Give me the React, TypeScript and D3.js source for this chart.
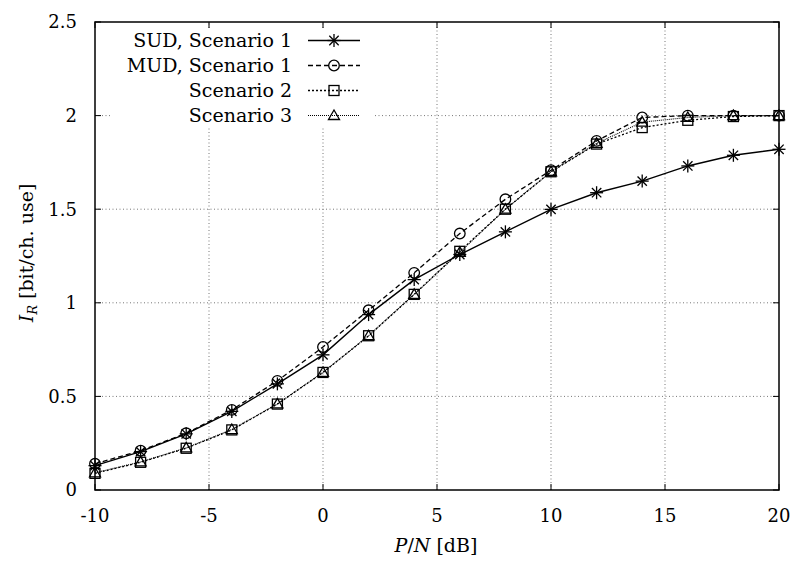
import React from "react";
import * as d3 from "d3";

const snr = [-10, -8, -6, -4, -2, 0, 2, 4, 6, 8, 10, 12, 14, 16, 18, 20];
const sud = [0.13, 0.205, 0.3, 0.42, 0.567, 0.722, 0.937, 1.124, 1.258, 1.379, 1.499, 1.588, 1.65, 1.731, 1.788, 1.82];
const mud = [0.14, 0.21, 0.303, 0.428, 0.583, 0.764, 0.96, 1.16, 1.37, 1.553, 1.708, 1.865, 1.99, 2.0, 2.0, 2.0];
const scen2 = [0.089, 0.148, 0.223, 0.321, 0.459, 0.628, 0.824, 1.045, 1.275, 1.5, 1.7, 1.848, 1.936, 1.975, 1.995, 2.0];
const scen3 = [0.092, 0.15, 0.225, 0.323, 0.46, 0.628, 0.824, 1.045, 1.27, 1.5, 1.7, 1.852, 1.965, 1.99, 2.0, 2.0];
const xTicks = [-10, -5, 0, 5, 10, 15, 20];
const yTicks = [0, 0.5, 1, 1.5, 2, 2.5];
const seriesNames = ["SUD, Scenario 1", "MUD, Scenario 1", "Scenario 2", "Scenario 3"];

const W = 796, H = 566;
const L = 95, R = 779, T = 22, B = 490;
const FONT = "'DejaVu Serif', 'Liberation Serif', serif";

function Marker({ kind, x, y }: { kind: string; x: number; y: number }) {
  const s = 6.5;
  if (kind === "star") {
    const d = s * 0.72;
    return (
      <g stroke="#000" strokeWidth={1.3}>
        <line x1={x - s} y1={y} x2={x + s} y2={y} />
        <line x1={x} y1={y - s} x2={x} y2={y + s} />
        <line x1={x - d} y1={y - d} x2={x + d} y2={y + d} />
        <line x1={x - d} y1={y + d} x2={x + d} y2={y - d} />
      </g>
    );
  }
  if (kind === "circle") return <circle cx={x} cy={y} r={5.3} fill="none" stroke="#000" strokeWidth={1.3} />;
  if (kind === "square") return <rect x={x - 5} y={y - 5} width={10} height={10} fill="none" stroke="#000" strokeWidth={1.3} />;
  return <path d={`M${x},${y - 5.5}L${x + 5.5},${y + 4}L${x - 5.5},${y + 4}Z`} fill="none" stroke="#000" strokeWidth={1.3} />;
}

export default function App() {
  const x = d3.scaleLinear().domain([-10, 20]).range([L, R]);
  const y = d3.scaleLinear().domain([0, 2.5]).range([B, T]);
  const line = d3.line<[number, number]>().x((d) => x(d[0])).y((d) => y(d[1]));
  const series = [
    { name: seriesNames[0], vals: sud, dash: "none", marker: "star", w: 1.4 },
    { name: seriesNames[1], vals: mud, dash: "5,3", marker: "circle", w: 1.3 },
    { name: seriesNames[2], vals: scen2, dash: "2,2", marker: "square", w: 1.3 },
    { name: seriesNames[3], vals: scen3, dash: "1,1", marker: "triangle", w: 1.1 },
  ];
  const legY = [40.5, 65.5, 90.5, 115.5];
  return (
    <svg width={W} height={H} style={{ position: "absolute", left: 0, top: 0, background: "#fff" }} fontFamily={FONT}>
      <rect x={0} y={0} width={W} height={H} fill="#fff" />
      {/* grid */}
      <g stroke="#777" strokeWidth={1} strokeDasharray="1,2.5">
        {xTicks.slice(1, -1).map((t) => (
          <line key={"gx" + t} x1={x(t)} x2={x(t)} y1={B} y2={T} />
        ))}
        {yTicks.slice(1, -1).map((t) => (
          <line key={"gy" + t} x1={L} x2={R} y1={y(t)} y2={y(t)} />
        ))}
      </g>
      {/* legend background */}
      <rect x={112} y={28} width={262} height={100} fill="#fff" />
      {/* series */}
      {series.map((s) => {
        const pts = snr.map((v, i) => [v, s.vals[i]] as [number, number]);
        return (
          <g key={s.name}>
            <path d={line(pts) || ""} fill="none" stroke="#000" strokeWidth={s.w} strokeDasharray={s.dash} />
            {pts.map((p, i) => (
              <Marker key={i} kind={s.marker} x={x(p[0])} y={y(p[1])} />
            ))}
          </g>
        );
      })}
      {/* legend */}
      {series.map((s, i) => (
        <g key={"leg" + i}>
          <text x={292} y={legY[i]} dy="0.35em" textAnchor="end" fontSize={19}>
            {s.name}
          </text>
          <line x1={308} x2={360} y1={legY[i]} y2={legY[i]} stroke="#000" strokeWidth={s.w} strokeDasharray={s.dash} />
          <Marker kind={s.marker} x={334} y={legY[i]} />
        </g>
      ))}
      {/* border */}
      <rect x={L} y={T} width={R - L} height={B - T} fill="none" stroke="#000" strokeWidth={1.5} />
      {/* ticks */}
      <g stroke="#000" strokeWidth={1}>
        {xTicks.map((t) => (
          <g key={"tx" + t}>
            <line x1={x(t)} x2={x(t)} y1={B} y2={B - 6} />
            <line x1={x(t)} x2={x(t)} y1={T} y2={T + 6} />
          </g>
        ))}
        {yTicks.map((t) => (
          <g key={"ty" + t}>
            <line x1={L} x2={L + 6} y1={y(t)} y2={y(t)} />
            <line x1={R} x2={R - 6} y1={y(t)} y2={y(t)} />
          </g>
        ))}
      </g>
      {/* tick labels */}
      {xTicks.map((t) => (
        <text key={"lx" + t} x={x(t)} y={B + 32} textAnchor="middle" fontSize={18}>
          {String(t)}
        </text>
      ))}
      {yTicks.map((t) => (
        <text key={"ly" + t} x={L - 18} y={y(t)} dy="0.35em" textAnchor="end" fontSize={18}>
          {String(t)}
        </text>
      ))}
      {/* axis labels */}
      <text x={436} y={B + 62} textAnchor="middle" fontSize={19}>
        <tspan fontStyle="italic">P</tspan>/<tspan fontStyle="italic">N</tspan> [dB]
      </text>
      <text transform={`translate(33,${253}) rotate(-90)`} textAnchor="middle" fontSize={19}>
        <tspan fontStyle="italic">I</tspan>
        <tspan fontStyle="italic" fontSize={13} dy={4}>R</tspan>
        <tspan dy={-4}> [bit/ch. use]</tspan>
      </text>
    </svg>
  );
}
